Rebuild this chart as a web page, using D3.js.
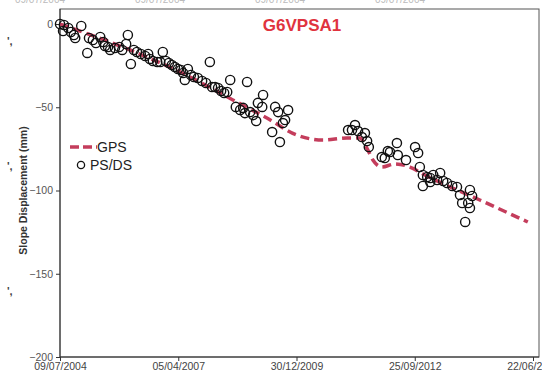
<!DOCTYPE html>
<html>
<head>
<meta charset="utf-8">
<script src="https://cdn.jsdelivr.net/npm/d3@7"></script>
<style>
  html, body { margin: 0; padding: 0; background: #fff; }
  svg { display: block; font-family: "Liberation Sans", Arial, sans-serif; }
</style>
</head>
<body>
<svg id="chart" width="542" height="375"></svg>
<script>
// GPS monitoring curve (dates, displacement in mm)
const gpsDates = ["2004-07-09","2006-02-21","2007-05-06","2008-07-10","2009-04-24","2010-01-02",
  "2010-08-10","2011-03-01","2011-06-19","2011-08-17","2011-10-07","2011-12-22","2012-04-10",
  "2012-08-15","2012-12-19","2014-03-29","2015-05-09"];
const gpsValues = [0, -15.6, -29.4, -45.6, -56.5, -66.7, -69.7, -68.5, -68.5, -74.5, -81.7, -85.9,
  -84.1, -85.9, -90.7, -105.7, -118.9];

// PS/DS interferometric measurements (decimal year, displacement in mm)
const psTimes = [2004.52,2004.61,2004.59,2004.71,2004.77,2004.84,2004.87,2005.01,2005.15,2005.19,
  2005.28,2005.35,2005.45,2005.52,2005.56,2005.63,2005.68,2005.79,2005.89,2005.96,2006.05,2006.09,
  2006.16,2006.23,2006.30,2006.39,2006.49,2006.56,2006.60,2006.67,2006.77,2006.84,2006.90,2006.97,
  2007.04,2007.11,2007.18,2007.25,2007.32,2007.37,2007.41,2007.48,2007.55,2007.62,2007.71,2007.81,
  2007.90,2007.99,2008.04,2008.11,2008.18,2008.25,2008.32,2008.39,2008.46,2008.59,2008.69,2008.76,
  2008.80,2008.85,2008.92,2008.99,2009.06,2009.10,2009.20,2009.22,2009.43,2009.50,2009.57,2009.61,
  2009.68,2009.73,2009.80,
  2011.19,2011.28,2011.35,2011.42,2011.51,2011.58,2011.63,2011.67,
  2011.97,2012.04,2012.11,2012.16,2012.32,2012.34,2012.53,2012.74,2012.81,2012.85,2012.92,2013.02,
  2013.09,2013.16,2013.25,2013.32,2013.39,2012.92,2013.09,2013.48,2013.60,2013.71,2013.78,2013.83,
  2014.01,2014.06,2013.97,2014.01,2013.90];
const psValues = [0,-0.6,-4.2,-2.4,-4.8,-6.6,-8.4,-1.2,-17.4,-8.4,
  -9.6,-11.4,-7.8,-10.8,-13.2,-13.8,-15.6,-14.4,-13.8,-15.6,-12.0,-6.6,
  -24.0,-15.6,-16.8,-18.0,-19.2,-18.0,-21.0,-22.2,-22.8,-22.8,-16.8,-22.2,
  -23.4,-24.6,-25.8,-27.0,-27.6,-29.4,-33.6,-27.0,-30.6,-31.8,-32.4,-34.2,
  -35.4,-22.8,-37.8,-37.8,-38.4,-40.2,-41.4,-40.8,-33.6,-49.8,-51.6,-50.4,
  -53.5,-34.8,-52.9,-54.7,-58.3,-47.4,-49.8,-42.6,-64.9,-49.8,-52.9,-70.9,
  -59.5,-57.7,-51.7,
  -63.7,-63.7,-60.7,-64.3,-67.9,-65.5,-70.3,-73.9,
  -79.9,-80.5,-76.3,-76.9,-71.5,-78.7,-81.7,-73.9,-77.5,-85.9,-90.7,-91.9,
  -92.5,-90.7,-93.7,-89.5,-94.3,-97.3,-94.9,-95.5,-97.3,-97.9,-102.7,-107.5,
  -99.7,-103.3,-107.5,-110.5,-118.9];

// Axis ticks
const xTickDates = ["2004-07-09","2007-04-05","2009-12-30","2012-09-25","2015-06-22"];
const yTicks = [0, -50, -100, -150, -200];

const titleText = "G6VPSA1";
const yTitle = "Slope Displacement (mm)";
const legendItems = ["GPS", "PS/DS"];

const parse = d3.utcParse("%Y-%m-%d");
function yearToDate(t) {
  const y = Math.floor(t);
  const a = Date.UTC(y, 0, 1), b = Date.UTC(y + 1, 0, 1);
  return new Date(a + (t - y) * (b - a));
}

const svg = d3.select("#chart");
const plot = { left: 60, right: 539, top: 9, bottom: 357 };

const x = d3.scaleUtc()
  .domain([parse(xTickDates[0]), parse(xTickDates[4])])
  .range([60, 533]);
const y = d3.scaleLinear().domain([-200, 0]).range([357, 24]);

// faint remnants of neighbouring panels at the edges
const topG = svg.append("g").attr("fill", "#bbb").attr("font-size", 10);
[40, 160, 280, 400].forEach(px => topG.append("text").attr("x", px).attr("y", 3).attr("text-anchor", "middle").text("09/07/2004"));
[45, 170, 295].forEach(py => svg.append("text").attr("x", 7).attr("y", py).attr("font-size", 11).attr("font-weight", "bold").attr("fill", "#444").text("',"));

// plot frame
svg.append("rect")
  .attr("x", plot.left).attr("y", plot.top)
  .attr("width", plot.right - plot.left).attr("height", plot.bottom - plot.top)
  .attr("fill", "none").attr("stroke", "#555").attr("stroke-width", 1);

// y axis
const yAxis = svg.append("g")
  .attr("transform", `translate(${plot.left},0)`)
  .call(d3.axisLeft(y).tickValues(yTicks).tickSize(4).tickPadding(3).tickFormat(d3.format("d")));
yAxis.select(".domain").attr("stroke", "#333").attr("d", `M0,${plot.top}V${plot.bottom}`);
yAxis.selectAll(".tick line").attr("stroke", "#333");
yAxis.selectAll("text").attr("font-size", 10.5).attr("fill", "#555").attr("font-family", "Liberation Sans, Arial, sans-serif");

// x axis
const xAxis = svg.append("g")
  .attr("transform", `translate(0,${plot.bottom})`)
  .call(d3.axisBottom(x).tickValues(xTickDates.map(parse)).tickSize(4).tickPadding(2)
    .tickFormat(d3.utcFormat("%d/%m/%Y")));
xAxis.select(".domain").attr("stroke", "#333").attr("d", `M${plot.left},0H${plot.right}`);
xAxis.selectAll(".tick line").attr("stroke", "#333");
xAxis.selectAll("text").attr("font-size", 10.5).attr("fill", "#444").attr("font-family", "Liberation Sans, Arial, sans-serif");

// y title
svg.append("text")
  .attr("transform", `translate(27,${(y(0) + y(-200)) / 2}) rotate(-90)`)
  .attr("text-anchor", "middle")
  .attr("font-size", 10.5).attr("font-weight", "bold").attr("fill", "#333")
  .text(yTitle);

// chart title
svg.append("text")
  .attr("x", 302).attr("y", 31)
  .attr("text-anchor", "middle")
  .attr("font-size", 17).attr("font-weight", "bold").attr("fill", "#e0333e")
  .text(titleText);

// GPS curve
const gps = gpsDates.map((d, i) => ({ date: parse(d), v: gpsValues[i] }));
svg.append("path")
  .datum(gps)
  .attr("fill", "none")
  .attr("stroke", "#c43d5c")
  .attr("stroke-width", 3.5)
  .attr("stroke-dasharray", "9,5")
  .attr("d", d3.line().x(d => x(d.date)).y(d => y(d.v)).curve(d3.curveMonotoneX));

// PS/DS points
const ps = psTimes.map((t, i) => ({ date: yearToDate(t), v: psValues[i] }));
svg.append("g")
  .selectAll("circle")
  .data(ps)
  .join("circle")
  .attr("cx", d => x(d.date))
  .attr("cy", d => y(d.v))
  .attr("r", 4.6)
  .attr("fill", "none")
  .attr("stroke", "#111")
  .attr("stroke-width", 1.4);

// legend
const lg = svg.append("g").attr("font-size", 14).attr("fill", "#222");
lg.append("line").attr("x1", 70).attr("x2", 97).attr("y1", 147).attr("y2", 147)
  .attr("stroke", "#c43d5c").attr("stroke-width", 3.5).attr("stroke-dasharray", "9,4");
lg.append("text").attr("x", 97).attr("y", 152).text(legendItems[0]);
lg.append("circle").attr("cx", 81).attr("cy", 165).attr("r", 3.6)
  .attr("fill", "none").attr("stroke", "#111").attr("stroke-width", 1.3);
lg.append("text").attr("x", 90).attr("y", 170).text(legendItems[1]);
</script>
</body>
</html>
